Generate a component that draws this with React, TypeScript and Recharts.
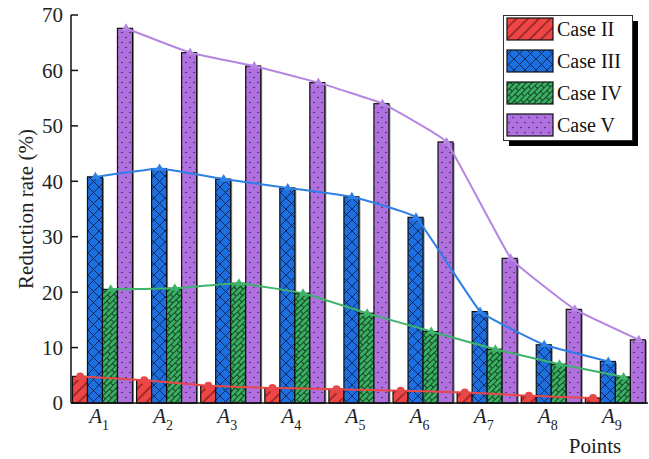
import React from "react";
import { Bar, ComposedChart, Label, Legend, Line, XAxis, YAxis } from "recharts";

// measurement points A1..A9 (subscripts) and reduction rates per case, %
const points = ["1", "2", "3", "4", "5", "6", "7", "8", "9"];
const caseII = [4.8, 4.1, 3.1, 2.7, 2.5, 2.2, 1.9, 1.3, 0.9];
const caseIII = [40.8, 42.3, 40.4, 38.8, 37.2, 33.5, 16.5, 10.5, 7.5];
const caseIV = [20.5, 20.7, 21.6, 19.8, 16.2, 12.9, 9.7, 7.0, 4.7];
const caseV = [67.6, 63.2, 60.8, 57.8, 54.0, 47.1, 26.1, 16.9, 11.4];
const yTicks = [0, 10, 20, 30, 40, 50, 60, 70];

const names = ["Case II", "Case III", "Case IV", "Case V"];
const fills = ["#f04545", "#1d6fe0", "#3cae64", "#b070df"];
const lineColors = ["#e84848", "#2f80e6", "#3db36b", "#b585e2"];
const hatch = ["#3a0d0d", "#0a2352", "#0d3a1c", "#1a1a1a"];
const series = [caseII, caseIII, caseIV, caseV];

const SERIF = '"Liberation Serif", "Times New Roman", serif';
const GAP = 0.023; // category gap on each side, fraction of band

// centre of bar k inside its band, so the lines run through the bar tops
const barCenter = (k: number) => GAP + ((1 - 2 * GAP) * (k + 0.5)) / series.length;

const rows = points.map((p, i) => {
  const r: any = { p };
  series.forEach((s, k) => {
    r[`s${k}`] = s[i];
    r[`x${k}`] = i + barCenter(k);
  });
  return r;
});

// cardinal spline with high tension: smooth, but close to straight segments
function cardinalCurve(tension: number) {
  const f = (1 - tension) / 6;
  return (ctx: any) => {
    let pts: number[][] = [];
    return {
      areaStart() {},
      areaEnd() {},
      lineStart() {
        pts = [];
      },
      point(x: number, y: number) {
        pts.push([+x, +y]);
      },
      lineEnd() {
        const n = pts.length;
        if (!n) return;
        ctx.moveTo(pts[0][0], pts[0][1]);
        for (let i = 0; i < n - 1; i++) {
          const p0 = pts[i - 1] || pts[i];
          const p1 = pts[i];
          const p2 = pts[i + 1];
          const p3 = pts[i + 2] || p2;
          ctx.bezierCurveTo(
            p1[0] + (p2[0] - p0[0]) * f,
            p1[1] + (p2[1] - p0[1]) * f,
            p2[0] - (p3[0] - p1[0]) * f,
            p2[1] - (p3[1] - p1[1]) * f,
            p2[0],
            p2[1]
          );
        }
      },
    };
  };
}
const smooth = cardinalCurve(0.75);

function patternDefs(prefix: string) {
  return [
    <pattern key="0" id={`${prefix}0`} width={8} height={8} patternUnits="userSpaceOnUse" patternTransform="rotate(45)">
      <rect width={8} height={8} fill={fills[0]} />
      <line x1={4} y1={0} x2={4} y2={8} stroke={hatch[0]} strokeWidth={0.9} />
    </pattern>,
    <pattern key="1" id={`${prefix}1`} width={11} height={11} patternUnits="userSpaceOnUse">
      <rect width={11} height={11} fill={fills[1]} />
      <path d="M0,0 L11,11 M11,0 L0,11" stroke={hatch[1]} strokeWidth={0.9} />
    </pattern>,
    <pattern key="2" id={`${prefix}2`} width={10} height={8} patternUnits="userSpaceOnUse" patternTransform="rotate(-45)">
      <rect width={10} height={8} fill={fills[2]} />
      <path d="M0,0.5 H10 M0,4.5 H10 M2.5,0.5 V4.5 M7.5,4.5 V8.5" stroke={hatch[2]} strokeWidth={0.9} />
    </pattern>,
    <pattern key="3" id={`${prefix}3`} width={8} height={10} patternUnits="userSpaceOnUse">
      <rect width={8} height={10} fill={fills[3]} />
      <circle cx={2} cy={2.5} r={0.7} fill={hatch[3]} />
      <circle cx={6} cy={7.5} r={0.7} fill={hatch[3]} />
    </pattern>,
  ];
}

function BarShape(props: any) {
  const { x, y, width, height, k } = props;
  if (!height || height <= 0) return null;
  return (
    <g>
      <rect x={x + 1.5} y={y + 1} width={width} height={height} fill="#8a8a8a" />
      <rect x={x} y={y} width={width} height={height} fill={`url(#pc${k})`} stroke="#111" strokeWidth={1.2} />
    </g>
  );
}

function marker(k: number) {
  return (props: any) => {
    const { cx, cy, index } = props;
    if (k === 0) return <circle key={index} cx={cx} cy={cy} r={4} fill={lineColors[0]} />;
    return (
      <path
        key={index}
        d={`M${cx},${cy - 5} L${cx - 4.5},${cy + 2.5} L${cx + 4.5},${cy + 2.5} Z`}
        fill={lineColors[k]}
      />
    );
  };
}

function PointTick({ x, y, payload }: any) {
  return (
    <text x={x - 4} y={y + 20} textAnchor="middle" fontFamily={SERIF} fontSize={21} fill="#222">
      <tspan fontStyle="italic">A</tspan>
      <tspan fontSize={14} dy={7}>
        {payload.value}
      </tspan>
    </text>
  );
}

function LegendBox() {
  return (
    <svg width={140} height={135} style={{ display: "block" }}>
      <defs>{patternDefs("pl")}</defs>
      <rect x={6} y={6} width={129} height={125} fill="#000" />
      <rect x={0.5} y={0.5} width={129} height={125} fill="#fff" stroke="#333" />
      {names.map((n, k) => (
        <g key={n}>
          <rect x={4} y={3 + 32 * k} width={46} height={22} fill={`url(#pl${k})`} stroke="#111" strokeWidth={1.2} />
          <text x={54} y={20.5 + 32 * k} fontFamily={SERIF} fontSize={20} fill="#111">
            {n}
          </text>
        </g>
      ))}
    </svg>
  );
}

export default function App() {
  return (
    <div style={{ position: "absolute", left: 0, top: 0, width: 649, height: 459, background: "#fff" }}>
      <ComposedChart
        width={649}
        height={459}
        data={rows}
        margin={{ top: 15, right: 1, bottom: 16, left: 11 }}
        barCategoryGap={`${GAP * 100}%`}
        barGap={0}
      >
        <defs>{patternDefs("pc")}</defs>
        <XAxis
          xAxisId="cat"
          dataKey="p"
          height={40}
          tickLine={false}
          tickSize={0}
          tickMargin={0}
          interval={0}
          axisLine={{ stroke: "#111", strokeWidth: 1.5 }}
          tick={<PointTick />}
        >
          <Label
            content={({ viewBox }: any) => (
              <text
                x={viewBox.x + viewBox.width - 53}
                y={viewBox.y + 50}
                textAnchor="middle"
                fontFamily={SERIF}
                fontSize={21}
                fill="#222"
              >
                Points
              </text>
            )}
          />
        </XAxis>
        {series.map((_, k) => (
          <XAxis
            key={k}
            xAxisId={`n${k}`}
            dataKey={`x${k}`}
            type="number"
            domain={[0, points.length]}
            allowDataOverflow
            hide
          />
        ))}
        <YAxis
          yAxisId="y"
          domain={[0, 70]}
          ticks={yTicks}
          interval={0}
          width={60}
          tickSize={-7}
          tickMargin={15}
          axisLine={{ stroke: "#111", strokeWidth: 1.5 }}
          tickLine={{ stroke: "#111", strokeWidth: 1.5 }}
          tick={{ fontSize: 21, fill: "#222", fontFamily: SERIF }}
        >
          <Label
            content={({ viewBox }: any) => (
              <text
                x={33}
                y={viewBox.y + viewBox.height / 2}
                transform={`rotate(-90, 33, ${viewBox.y + viewBox.height / 2})`}
                textAnchor="middle"
                fontFamily={SERIF}
                fontSize={21}
                fill="#222"
              >
                Reduction rate (%)
              </text>
            )}
          />
        </YAxis>
        {series.map((_, k) => (
          <Bar
            key={`b${k}`}
            xAxisId="cat"
            yAxisId="y"
            dataKey={`s${k}`}
            name={names[k]}
            fill={fills[k]}
            shape={(p: any) => <BarShape {...p} k={k} />}
            isAnimationActive={false}
          />
        ))}
        {series.map((_, k) => (
          <Line
            key={`l${k}`}
            xAxisId={`n${k}`}
            yAxisId="y"
            type={smooth as any}
            dataKey={`s${k}`}
            stroke={lineColors[k]}
            strokeWidth={2}
            dot={marker(k)}
            activeDot={false}
            legendType="none"
            isAnimationActive={false}
          />
        ))}
        <Legend
          layout="vertical"
          align="center"
          verticalAlign="middle"
          wrapperStyle={{ left: 503, top: 15, width: 140, height: 135 }}
          content={() => <LegendBox />}
        />
      </ComposedChart>
    </div>
  );
}
